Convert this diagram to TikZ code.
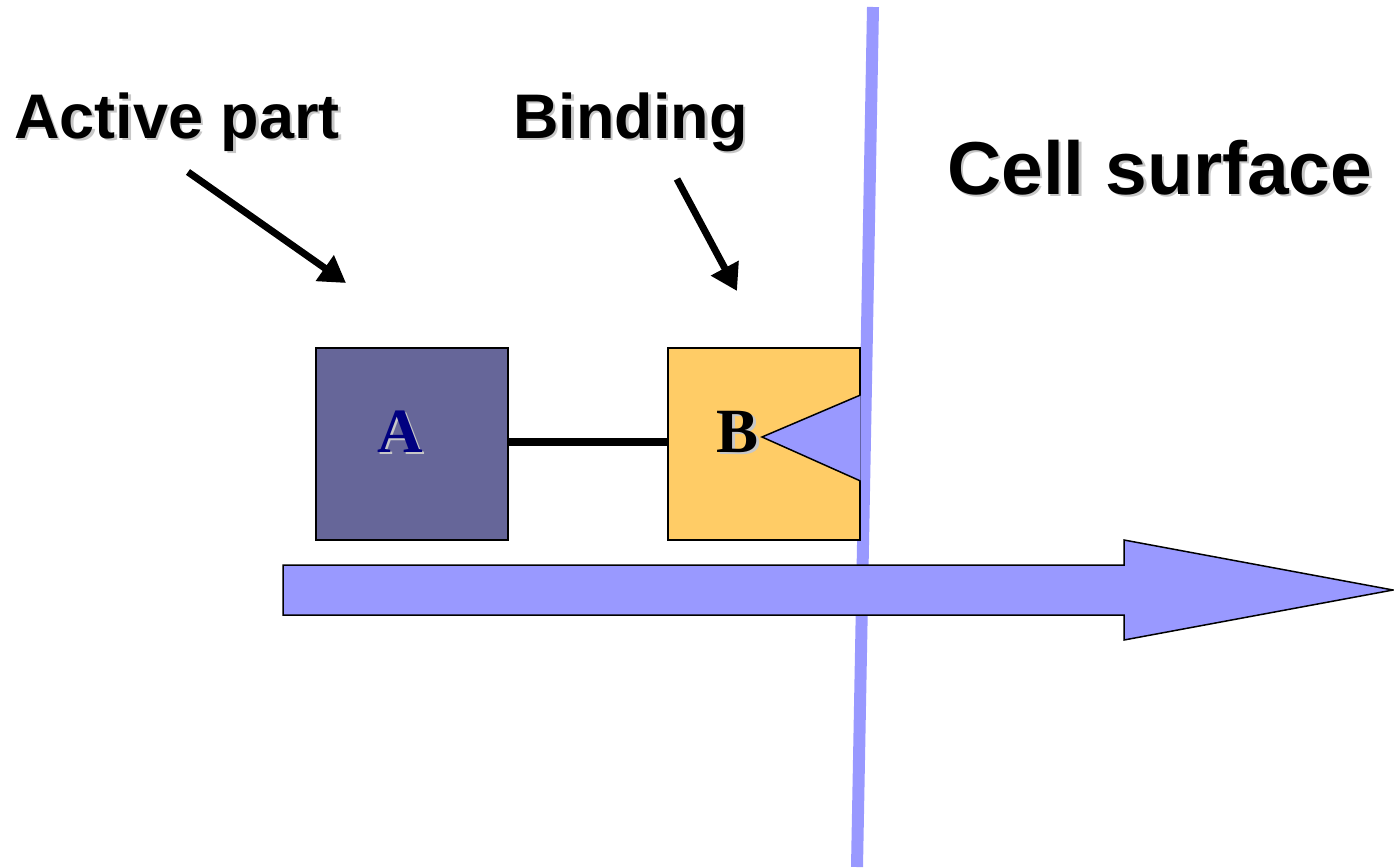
\documentclass[tikz,border=0pt]{standalone}
\usepackage{fontspec}
\setmainfont{Liberation Sans}
\newfontfamily\timesfont{Liberation Serif}
\usetikzlibrary{arrows.meta}
\definecolor{membrane}{HTML}{9999FF}
\definecolor{activebox}{HTML}{666699}
\definecolor{bindbox}{HTML}{FFCC66}
\definecolor{letterA}{HTML}{000080}
\definecolor{shade}{gray}{0.78}
% text with a soft grey drop shadow behind it
\newcommand{\shadowed}[1]{\rlap{\hspace{2.5pt}\raisebox{-2.5pt}{\textcolor{shade}{#1}}}#1}
\tikzset{
  px/.style={x=1pt,y=-1pt},
  label/.style={font=\bfseries\fontsize{63}{70}\selectfont, anchor=base west, inner sep=0pt},
  biglabel/.style={font=\bfseries\fontsize{75}{82}\selectfont, anchor=base west, inner sep=0pt},
  letter/.style={font=\timesfont\bfseries\fontsize{63}{70}\selectfont, anchor=base, inner sep=0pt},
  pointer/.style={line width=7pt, -{Triangle[length=26pt,width=30pt]}},
  part/.style={draw=black, line width=1.5pt, minimum width=192pt, minimum height=192pt, inner sep=0pt, anchor=north west},
}
\begin{document}
\begin{tikzpicture}[px]
\useasboundingbox (0,0) rectangle (1394,867);

% cell membrane
\coordinate (memtop) at (873,7);
\coordinate (membot) at (857,867);
\draw[membrane, line width=12pt] (memtop) -- (membot);

% the two parts and their link
\node[part, fill=activebox] (A) at (315,347) {};
\node[part, fill=bindbox] (B) at (667,347) {};
\draw[line width=8pt] (A.east |- 0,442) -- (B.west |- 0,442);

% binding site on B
\draw[fill=membrane, line width=1.5pt] (B.east |- 0,395) -- (762,437) -- (B.east |- 0,481);

% letters
\node[letter, text=letterA] (la) at (400,452) {\shadowed{A}};
\node[letter] (lb) at (738,452) {\shadowed{B}};

% direction of movement
\draw[fill=membrane, line width=1.5pt]
  (283,565) -- (1124,565) -- (1124,540) -- (1393,590) -- (1124,640) -- (1124,615) -- (283,615) -- cycle;

% labels
\node[label] (lact) at (14,138) {\shadowed{Active part}};
\node[label] (lbind) at (513,138) {\shadowed{Binding}};
\node[biglabel] (lcell) at (947,194) {\shadowed{Cell surface}};

% pointers
\coordinate (p1s) at (188,172);
\coordinate (p1e) at (346,283);
\coordinate (p2s) at (677,179);
\coordinate (p2e) at (737,291);
\draw[pointer] (p1s) -- (p1e);
\draw[pointer] (p2s) -- (p2e);
\end{tikzpicture}
\end{document}
